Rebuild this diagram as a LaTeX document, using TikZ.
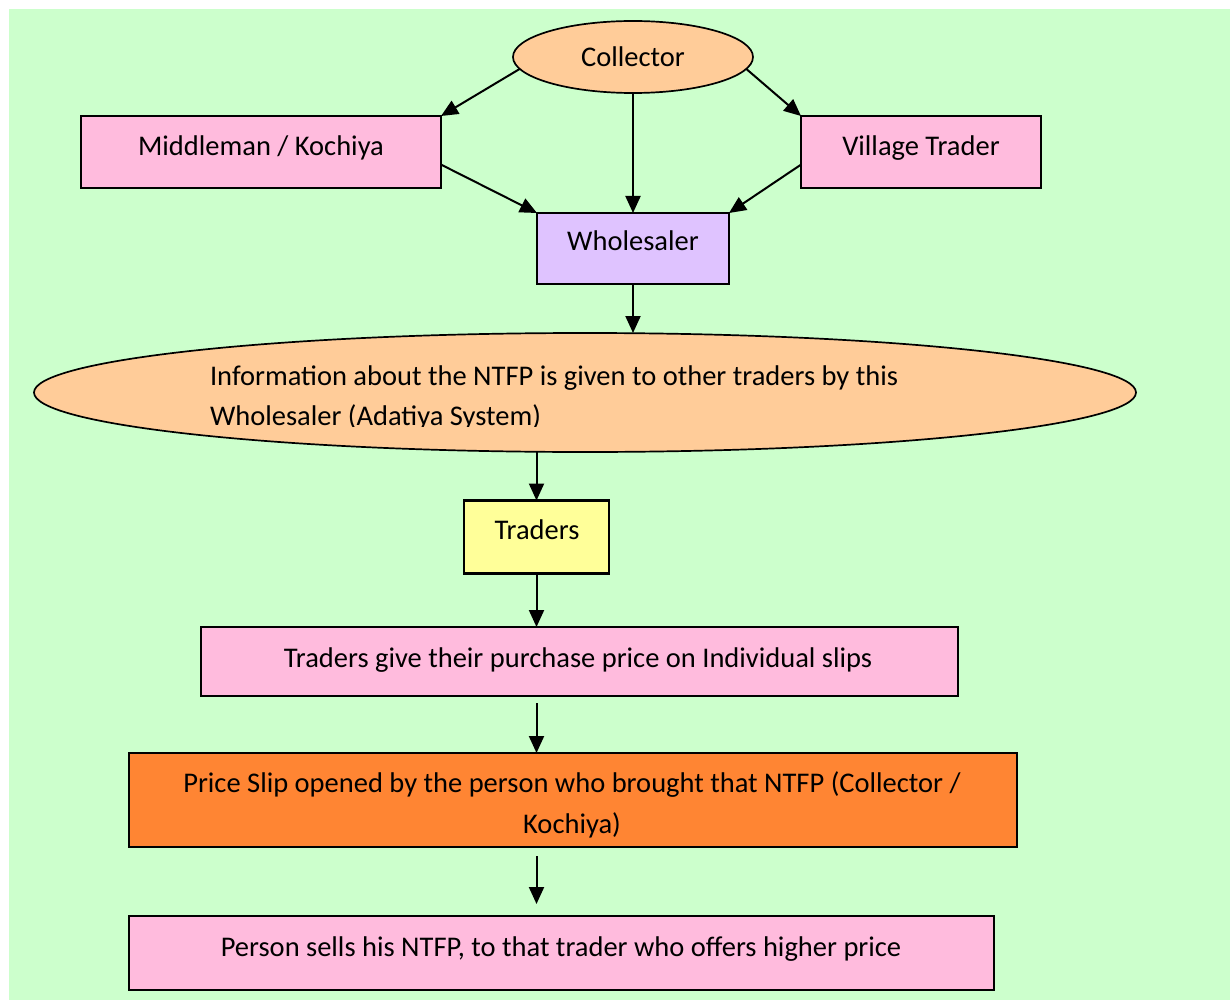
\documentclass[tikz,border=0pt]{standalone}
\usepackage{fontspec}
\setmainfont{Carlito}
\usetikzlibrary{arrows.meta,shapes.geometric}
\definecolor{bggreen}{HTML}{CCFFCC}
\definecolor{peach}{HTML}{FFCC99}
\definecolor{pinkfill}{HTML}{FFBBDD}
\definecolor{lavfill}{HTML}{DFC3FF}
\definecolor{yelfill}{HTML}{FFFF99}
\definecolor{orangefill}{HTML}{FF8533}
\begin{document}
\begin{tikzpicture}[x=1pt,y=-1pt,
  every node/.style={font=\fontsize{28.5}{40}\selectfont, inner sep=0pt, outer sep=0pt},
  box/.style={draw=black, line width=2.2pt, rectangle},
  oval/.style={draw=black, line width=1.7pt, ellipse, fill=peach},
  lbl/.style={anchor=base},
  arr/.style={line width=2pt, -{Triangle[length=17pt,width=15pt]}}]
\useasboundingbox (0,0) rectangle (1230,1000);
\fill[white] (0,0) rectangle (1230,1000);
\fill[bggreen] (9,9) rectangle (1230,1000);

% top row: collector and the two intermediaries
\node[oval, minimum width=240pt, minimum height=72pt] (col) at (633,57) {};
\node[lbl] (colT) at (633,67) {Collector};
\node[box, fill=pinkfill, minimum width=360pt, minimum height=72pt] (mid) at (261,152) {};
\node[lbl] (midT) at (261,156) {Middleman / Kochiya};
\node[box, fill=pinkfill, minimum width=240pt, minimum height=72pt] (vil) at (921,152) {};
\node[lbl] (vilT) at (921,156) {Village Trader};

% wholesaler
\node[box, fill=lavfill, minimum width=192pt, minimum height=71pt] (whl) at (633,248.5) {};
\node[lbl] (whlT) at (633,251) {Wholesaler};

% information ellipse (text box clipped at the bottom)
\node[oval, minimum width=1102pt, minimum height=119pt] (info) at (585,392.5) {};
\begin{scope}
  \clip (0,0) rectangle (1230,426);
  \node[anchor=base west] (infoA) at (210,385) {Information about the NTFP is given to other traders by this};
  \node[anchor=base west] (infoB) at (210,425) {Wholesaler (Adatiya System)};
\end{scope}

% lower chain
\node[box, fill=yelfill, minimum width=145pt, minimum height=73pt] (trd) at (536.5,537) {};
\node[lbl] (trdT) at (537,539) {Traders};
\node[box, fill=pinkfill, minimum width=757pt, minimum height=69pt] (slip) at (579.5,661.5) {};
\node[lbl] (slipT) at (578,667) {Traders give their purchase price on Individual slips};
\node[box, fill=orangefill, minimum width=888pt, minimum height=94pt] (open) at (573,800) {};
\node[lbl] (openA) at (572,792) {Price Slip opened by the person who brought that NTFP (Collector /};
\node[lbl] (openB) at (572,833) {Kochiya)};
\node[box, fill=pinkfill, minimum width=865pt, minimum height=74pt] (sell) at (561.5,953) {};
\node[lbl] (sellT) at (561,956) {Person sells his NTFP, to that trader who offers higher price};

% connectors
\draw[arr] (col.186) -- (mid.north east);
\draw[arr] (col.-6) -- (vil.north west);
\draw[arr] (col.south) -- (whl.north);
\draw[arr] (mid.-4) -- (whl.north west);
\draw[arr] (vil.186) -- (whl.north east);
\draw[arr] (whl.south) -- (whl.south |- info.north);
\draw[arr] (trd.north |- info.south) -- (trd.north);
\draw[arr] (trd.south) -- (trd.south |- slip.north);
\draw[arr, shorten <=7pt] (trd.south |- slip.south) -- (trd.south |- open.north);
\draw[arr, shorten <=9pt, shorten >=12pt] (trd.south |- open.south) -- (trd.south |- sell.north);
\end{tikzpicture}
\end{document}
